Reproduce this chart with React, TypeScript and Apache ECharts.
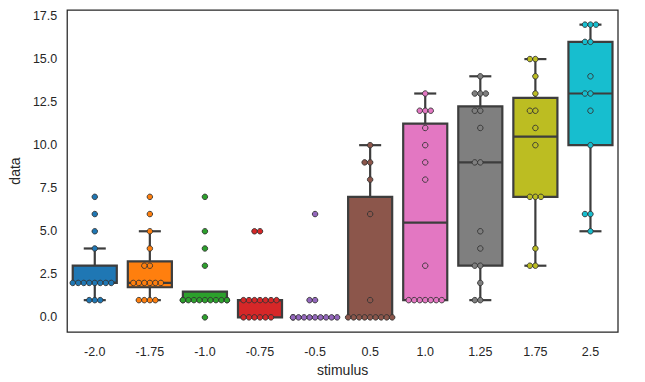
import React, { useEffect, useRef } from "react";
import * as echarts from "echarts";

const categories = ["-2.0", "-1.75", "-1.0", "-0.75", "-0.5", "0.5", "1.0", "1.25", "1.75", "2.5"];
const valsM2_0 = [1, 1, 1, 2, 2, 2, 2, 2, 2, 2, 2, 4, 5, 6, 7];
const valsM1_75 = [1, 1, 1, 1, 2, 2, 2, 2, 2, 2, 3, 3, 4, 5, 6, 7];
const valsM1_0 = [0, 1, 1, 1, 1, 1, 1, 1, 1, 1, 1, 1, 3, 4, 5, 7];
const valsM0_75 = [0, 0, 0, 0, 0, 0, 1, 1, 1, 1, 1, 1, 1, 5, 5];
const valsM0_5 = [0, 0, 0, 0, 0, 0, 0, 0, 0, 0, 1, 1, 6];
const vals0_5 = [0, 0, 0, 0, 0, 0, 0, 0, 0, 1, 6, 8, 9, 9, 10];
const vals1_0 = [1, 1, 1, 1, 1, 1, 1, 3, 8, 9, 10, 11, 12, 12, 12, 13];
const vals1_25 = [1, 1, 2, 3, 3, 4, 5, 9, 9, 11, 12, 12, 13, 13, 13, 14];
const vals1_75 = [3, 3, 4, 7, 7, 7, 10, 11, 12, 12, 13, 14, 15, 15];
const vals2_5 = [5, 6, 6, 10, 12, 13, 13, 14, 16, 16, 17, 17, 17];
const yTicks = [0, 2.5, 5, 7.5, 10, 12.5, 15, 17.5];

const groups = [valsM2_0, valsM1_75, valsM1_0, valsM0_75, valsM0_5, vals0_5, vals1_0, vals1_25, vals1_75, vals2_5];
const palette = ["#1f77b4", "#ff7f0e", "#2ca02c", "#d62728", "#9467bd", "#8c564b", "#e377c2", "#7f7f7f", "#bcbd22", "#17becf"];
const LINE = "#3d3d3d";
const TEXT = "#262626";
const FONT = "Liberation Sans, Arial, sans-serif";

function quantile(sorted: number[], p: number) {
  const h = (sorted.length - 1) * p;
  const lo = Math.floor(h);
  const hi = Math.ceil(h);
  return sorted[lo] + (h - lo) * (sorted[hi] - sorted[lo]);
}

function boxStats(values: number[], i: number) {
  const s = [...values].sort((a, b) => a - b);
  const q1 = quantile(s, 0.25);
  const med = quantile(s, 0.5);
  const q3 = quantile(s, 0.75);
  const iqr = q3 - q1;
  const low = Math.min(...s.filter((v) => v >= q1 - 1.5 * iqr));
  const high = Math.max(...s.filter((v) => v <= q3 + 1.5 * iqr));
  return [i, low, q1, med, q3, high];
}

const SPACING = 0.1;
function swarm(values: number[], i: number) {
  const counts = new Map<number, number>();
  return values.map((v) => {
    const k = counts.get(v) || 0;
    counts.set(v, k + 1);
    const m = Math.ceil(k / 2);
    const sign = k % 2 === 1 ? -1 : 1;
    let off = sign * m * SPACING;
    off = Math.max(-0.4, Math.min(0.4, off));
    return [i + off, v];
  });
}

export default function App() {
  const ref = useRef<HTMLDivElement>(null);
  useEffect(() => {
    if (!ref.current) return;
    const chart = echarts.init(ref.current, undefined, { renderer: "svg" });
    const boxData = groups.map((g, i) => boxStats(g, i));
    const option: any = {
      animation: false,
      textStyle: { fontFamily: FONT },
      grid: {
        show: true,
        left: 60,
        right: 27,
        top: 10,
        bottom: 50,
        borderColor: TEXT,
        borderWidth: 1.25,
        backgroundColor: "transparent",
      },
      xAxis: [
        {
          type: "category",
          data: categories,
          axisLine: { show: false },
          axisTick: { show: false },
          splitLine: { show: false },
          axisLabel: { color: TEXT, fontSize: 12.5, margin: 13, fontFamily: FONT },
          name: "stimulus",
          nameLocation: "middle",
          nameGap: 27,
          nameTextStyle: { color: TEXT, fontSize: 14, fontFamily: FONT },
        },
        {
          type: "value",
          show: false,
          min: -0.5,
          max: 9.5,
        },
      ],
      yAxis: {
        type: "value",
        min: -0.85,
        max: 17.85,
        axisLine: { show: false },
        axisTick: { show: false },
        splitLine: { show: false },
        axisLabel: {
          color: TEXT,
          fontSize: 12.5,
          margin: 10,
          fontFamily: FONT,
          customValues: yTicks,
          formatter: (v: number) => v.toFixed(1),
        },
        name: "data",
        nameLocation: "middle",
        nameGap: 40,
        nameTextStyle: { color: TEXT, fontSize: 14, fontFamily: FONT },
      },
      series: [
        {
          type: "custom",
          xAxisIndex: 0,
          yAxisIndex: 0,
          z: 1,
          encode: { x: 0, y: [1, 2, 3, 4, 5] },
          data: boxData,
          renderItem: (params: any, api: any) => {
            const i = api.value(0);
            const w = api.size([1, 0])[0] * 0.8;
            const pLow = api.coord([i, api.value(1)]);
            const cx = pLow[0];
            const yLow = pLow[1];
            const yQ1 = api.coord([i, api.value(2)])[1];
            const yMed = api.coord([i, api.value(3)])[1];
            const yQ3 = api.coord([i, api.value(4)])[1];
            const yHigh = api.coord([i, api.value(5)])[1];
            const st = { stroke: LINE, lineWidth: 2.2, fill: "none" };
            return {
              type: "group",
              children: [
                { type: "line", shape: { x1: cx, y1: yLow, x2: cx, y2: yQ1 }, style: st },
                { type: "line", shape: { x1: cx, y1: yHigh, x2: cx, y2: yQ3 }, style: st },
                { type: "line", shape: { x1: cx - w / 4, y1: yLow, x2: cx + w / 4, y2: yLow }, style: st },
                { type: "line", shape: { x1: cx - w / 4, y1: yHigh, x2: cx + w / 4, y2: yHigh }, style: st },
                {
                  type: "rect",
                  shape: { x: cx - w / 2, y: yQ3, width: w, height: yQ1 - yQ3 },
                  style: { fill: palette[i], stroke: LINE, lineWidth: 2.2 },
                },
                { type: "line", shape: { x1: cx - w / 2, y1: yMed, x2: cx + w / 2, y2: yMed }, style: st },
              ],
            };
          },
        },
        ...groups.map((g, i) => ({
          type: "scatter",
          xAxisIndex: 1,
          yAxisIndex: 0,
          z: 3,
          symbol: "circle",
          symbolSize: 5.5,
          itemStyle: { color: palette[i], borderColor: "#333333", borderWidth: 0.9, opacity: 1 },
          data: swarm(g, i),
        })),
      ],
    };
    chart.setOption(option);
    return () => chart.dispose();
  }, []);
  return <div ref={ref} style={{ width: 645, height: 382, position: "absolute", left: 0, top: 0 }} />;
}
